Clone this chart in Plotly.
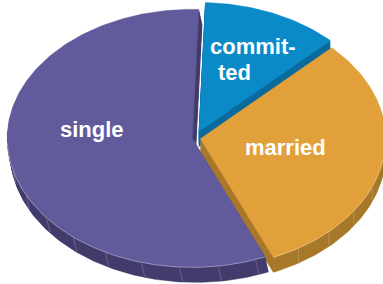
import numpy as np
import plotly.graph_objects as go

# ---- data ----
categories = ["committed", "married", "single"]
values = [12, 31, 57]

# ---- styling / layout constants ----
top_colors = ["#0a8bc8", "#e2a03a", "#615a9b"]
side_colors = ["#0a6b9c", "#a8792b", "#433c6c"]
pulls = [0.055, 0.03, 0.015]
wall_slant = [0.0, 0.0, 0.22]
W, H = 383, 284
CX, CY = 195, 138
RX, RY = 185, 129
DEPTH = 15
START = 2.0
# label lines: (text, x, y, anchor)
labels = [("commit-", 208, 46, "left"), ("ted", 216, 72, "left"),
          ("married", 285, 147, "center"), ("single", 92, 129, "center")]

total = float(sum(values))
angles = []
a = START
for v in values:
    span = 360.0 * v / total
    angles.append((a, a + span))
    a += span


def pt(theta, f, off):
    t = np.radians(theta)
    return CX + off[0] + RX * f * np.sin(t), CY + off[1] - RY * f * np.cos(t)


fig = go.Figure()
slices = []
for i, (a0, a1) in enumerate(angles):
    mid = np.radians((a0 + a1) / 2)
    off = (pulls[i] * RX * np.sin(mid), -pulls[i] * RY * np.cos(mid))
    arc = np.linspace(a0, a1, max(int((a1 - a0) / 1.0), 2) + 1)
    vx, vy = pt(0, 0, off)
    xs = [vx] + [pt(t, 1, off)[0] for t in arc] + [vx]
    ys = [vy] + [pt(t, 1, off)[1] for t in arc] + [vy]
    slices.append((xs, ys, arc, off))

# walls (extrusion): the slice outline stacked at every depth step
for i, (xs, ys, arc, off) in enumerate(slices):
    for d in range(DEPTH, 0, -1):
        sx = wall_slant[i] * d
        fig.add_trace(go.Scatter(x=[x + sx for x in xs], y=[y + d for y in ys],
                                 mode="lines", fill="toself",
                                 fillcolor=side_colors[i],
                                 line=dict(color=side_colors[i], width=0.5),
                                 hoverinfo="skip", showlegend=False))
    # faint facet lines on the front rim
    lx, ly = [], []
    for t in np.arange(4, 360, 12):
        if arc[0] + 2 < t < arc[-1] - 2 and 100 < (t % 360) < 260:
            px, py = pt(t, 1, off)
            lx += [px + wall_slant[i], px + wall_slant[i] * DEPTH, None]
            ly += [py + 1, py + DEPTH - 1, None]
    if lx:
        fig.add_trace(go.Scatter(x=lx, y=ly, mode="lines",
                                 line=dict(color="rgba(255,255,255,0.25)", width=0.8),
                                 hoverinfo="skip", showlegend=False))

# tops
for i, (xs, ys, arc, off) in enumerate(slices):
    fig.add_trace(go.Scatter(x=xs, y=ys, mode="lines", fill="toself",
                             fillcolor=top_colors[i],
                             line=dict(color=top_colors[i], width=0.5),
                             hoverinfo="skip", showlegend=False, name=categories[i]))
    front = [t for t in arc if 92 < (t % 360) < 268]
    if front:
        fx = [pt(t, 1, off)[0] for t in front]
        fy = [pt(t, 1, off)[1] for t in front]
        fig.add_trace(go.Scatter(x=fx, y=fy, mode="lines",
                                 line=dict(color="rgba(255,255,255,0.45)", width=0.8),
                                 hoverinfo="skip", showlegend=False))

for text, x, y, al in labels:
    fig.add_annotation(x=x, y=y, text="<b>" + text + "</b>", showarrow=False,
                       xanchor=al, yanchor="middle", align=al,
                       font=dict(family="Liberation Sans, Arial, sans-serif", size=22, color="white"))

fig.update_layout(width=W, height=H, margin=dict(l=0, r=0, t=0, b=0),
                  paper_bgcolor="white", plot_bgcolor="white",
                  xaxis=dict(range=[0, W], visible=False, fixedrange=True),
                  yaxis=dict(range=[H, 0], visible=False, fixedrange=True),
                  showlegend=False)
fig.write_html("out.html", config={"displayModeBar": False},
               post_script="document.body.style.margin='0';document.body.style.overflow='hidden';")
